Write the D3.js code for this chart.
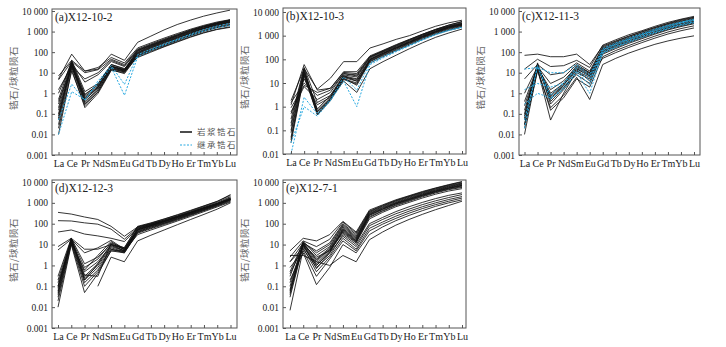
<!DOCTYPE html>
<meta charset="utf-8">
<style>
body { margin: 0; background: #fff; }
text { font-family: "Liberation Serif", "DejaVu Serif", serif; }
.frame { fill: none; stroke: #555; stroke-width: 1; }
.axis .domain { display: none; }
.axis line { stroke: #555; }
.axis text { fill: #222; }
.mag { fill: none; stroke: #111; stroke-width: 0.85; }
.inh { fill: none; stroke: #27a9e1; stroke-width: 1; stroke-dasharray: 2,1.5; }
text.ylab { fill: #666; font-family: "Noto Sans CJK SC", sans-serif; font-size: 9.5px; letter-spacing: 0.5px; }
text.title { fill: #222; font-size: 11.5px; }
text.leg { fill: #555; font-family: "Noto Sans CJK SC", sans-serif; font-size: 8.5px; letter-spacing: 1.5px; }
</style>
<body>
<script src="https://d3js.org/d3.v7.min.js"></script>
<script>

var elements = ["La","Ce","Pr","Nd","Sm","Eu","Gd","Tb","Dy","Ho","Er","Tm","Yb","Lu"];
var yTicks = [0.001, 0.01, 0.1, 1, 10, 100, 1000, 10000];
var yTickLabels = ["0.001", "0.01", "0.1", "1", "10", "100", "1 000", "10 000"];
var panelNames = ["(a)X12-10-2", "(b)X12-10-3", "(c)X12-11-3", "(d)X12-12-3", "(e)X12-7-1"];
var yTitle = "锆石/球粒陨石";
var legendNames = ["岩浆锆石", "继承锆石"];

// (a) X12-10-2
var magA = [
  [5, 80, 12, 15, 80, 40, 300, 600, 1200, 2200, 3600, 5600, 8000, 11000],
  [7, 40, 12, 18, 55, 30, 160, 280, 480, 800, 1300, 2000, 2900, 3800],
  [4.5, 35, 10, 14, 45, 25, 140, 250, 430, 720, 1200, 1850, 2700, 3600],
  [1.0, 30, 3.5, 8, 35, 20, 120, 220, 380, 650, 1100, 1700, 2500, 3400],
  [0.5, 40, 1.2, 3, 25, 15, 110, 200, 350, 600, 1000, 1600, 2400, 3300],
  [0.3, 35, 0.9, 2.5, 22, 14, 100, 190, 330, 560, 950, 1500, 2300, 3100],
  [0.2, 30, 0.6, 2, 20, 13, 95, 180, 310, 530, 900, 1450, 2200, 3000],
  [0.1, 25, 0.5, 1.8, 18, 12, 90, 170, 300, 500, 850, 1400, 2100, 2900],
  [0.06, 28, 0.4, 1.5, 17, 12, 85, 160, 280, 480, 820, 1350, 2000, 2800],
  [0.03, 20, 0.3, 1.2, 15, 11, 80, 150, 260, 450, 780, 1300, 1950, 2700],
  [0.01, 15, 0.2, 1.0, 13, 10, 70, 130, 230, 400, 700, 1150, 1750, 2400],
  [0.02, 12, 0.25, 1.2, 14, 9, 65, 120, 210, 370, 640, 1050, 1600, 2200],
  [0.4, 18, 0.7, 2.2, 20, 13, 75, 130, 220, 380, 650, 1050, 1550, 2000],
  [0.15, 22, 0.35, 1.5, 16, 11, 60, 110, 190, 330, 560, 900, 1300, 1700],
  [0.08, 30, 0.8, 2.8, 25, 16, 55, 100, 180, 310, 530, 850, 1250, 1600],
  [0.05, 25, 0.5, 2, 20, 14, 120, 210, 360, 620, 1050, 1700, 2500, 3500],
  [1.5, 20, 5, 10, 40, 22, 130, 230, 400, 680, 1150, 1800, 2600, 3700]
];
var inhA = [
  [0.01, 1.2, 0.5, 3, 18, 0.8, 60, 120, 220, 380, 650, 1050, 1550, 2000],
  [0.05, 2.8, 0.45, 4, 22, 2.7, 75, 140, 250, 430, 750, 1250, 1850, 2500]
];

// (b) X12-10-3
var magB = [
  [1.8, 40, 5.5, 16, 80, 80, 300, 450, 700, 1000, 1600, 2500, 3500, 4500],
  [1.2, 60, 5, 6, 30, 30, 140, 240, 420, 700, 1150, 1850, 2800, 3800],
  [0.9, 8, 4, 6, 28, 25, 130, 220, 380, 650, 1100, 1750, 2600, 3500],
  [0.6, 7, 2, 4, 25, 20, 120, 210, 360, 620, 1050, 1700, 2500, 3300],
  [0.3, 45, 1.5, 3, 22, 18, 110, 200, 340, 580, 1000, 1600, 2400, 3200],
  [0.15, 35, 0.7, 2.5, 20, 15, 100, 185, 320, 550, 950, 1500, 2300, 3000],
  [0.1, 30, 0.6, 2.2, 18, 14, 95, 175, 300, 520, 900, 1450, 2200, 2900],
  [0.05, 25, 0.5, 2, 17, 12, 90, 165, 290, 500, 860, 1400, 2100, 2800],
  [0.03, 20, 0.45, 1.8, 15, 10, 85, 155, 270, 470, 820, 1350, 2000, 2700],
  [0.08, 28, 0.8, 3, 16, 8, 80, 145, 250, 440, 770, 1250, 1850, 2500],
  [0.5, 15, 1.2, 2.5, 20, 12, 70, 130, 230, 400, 700, 1150, 1700, 2300],
  [0.2, 40, 0.6, 2, 12, 4, 40, 80, 150, 280, 500, 850, 1300, 1900],
  [0.04, 22, 0.5, 2, 14, 9, 100, 180, 310, 530, 920, 1500, 2300, 3100],
  [1.5, 10, 3, 5, 25, 22, 125, 230, 400, 680, 1150, 1850, 2800, 4000]
];
var inhB = [
  [0.01, 2.5, 0.5, 2, 18, 5, 70, 130, 230, 400, 700, 1150, 1700, 2300],
  [0.03, 1.0, 0.4, 1.8, 12, 1, 60, 115, 210, 370, 650, 1100, 1650, 2200]
];

// (c) X12-11-3
var magC = [
  [70, 80, 60, 60, 80, 25, 200, 350, 600, 1000, 1600, 2500, 3800, 5000],
  [15, 45, 20, 22, 40, 18, 220, 400, 700, 1100, 1800, 2800, 4000, 5500],
  [5, 25, 8, 10, 30, 12, 180, 330, 580, 950, 1550, 2400, 3500, 4800],
  [1, 20, 3, 6, 25, 10, 160, 300, 520, 850, 1400, 2200, 3200, 4400],
  [0.25, 18, 1.5, 4, 20, 9, 150, 280, 480, 800, 1300, 2000, 3000, 4100],
  [0.08, 22, 0.8, 3, 18, 8, 140, 260, 450, 750, 1250, 1900, 2800, 3800],
  [0.03, 20, 0.5, 2.5, 15, 7, 130, 240, 420, 700, 1150, 1800, 2600, 3500],
  [0.01, 15, 0.05, 1, 12, 6, 120, 220, 390, 650, 1050, 1650, 2400, 3200],
  [0.05, 25, 0.3, 1.5, 10, 5, 110, 200, 350, 580, 950, 1500, 2200, 2900],
  [0.15, 18, 0.6, 2, 8, 3, 90, 170, 300, 500, 820, 1300, 1900, 2600],
  [0.02, 12, 0.2, 0.8, 6, 0.5, 25, 50, 90, 150, 240, 350, 480, 620],
  [0.4, 20, 1, 3, 22, 10, 100, 190, 330, 560, 920, 1450, 2100, 2900],
  [0.06, 30, 0.4, 1.8, 14, 4, 80, 150, 270, 450, 750, 1200, 1750, 2400],
  [0.03, 15, 0.15, 0.6, 5, 2, 60, 120, 210, 360, 600, 950, 1400, 1900],
  [0.1, 24, 0.7, 2.5, 16, 7, 50, 95, 170, 290, 480, 760, 1100, 1500]
];
var inhC = [
  [15, 18, 10, 10, 25, 8, 150, 280, 480, 800, 1300, 2000, 2900, 4000],
  [1.5, 3, 2, 3, 15, 4, 120, 230, 400, 680, 1100, 1750, 2600, 3500],
  [0.3, 1, 0.6, 1.5, 10, 1, 100, 190, 340, 580, 950, 1500, 2200, 3000],
  [0.05, 20, 0.8, 3, 20, 6, 130, 250, 430, 720, 1200, 1900, 2800, 3800],
  [0.02, 22, 0.5, 2, 12, 2.5, 90, 170, 300, 510, 850, 1350, 2000, 2700]
];

// (d) X12-12-3
var magD = [
  [350, 290, 210, 160, 75, 25, 70, 100, 150, 230, 370, 600, 950, 1500],
  [140, 135, 110, 95, 55, 18, 65, 95, 140, 220, 350, 570, 900, 1400],
  [40, 50, 32, 26, 20, 14, 60, 90, 135, 210, 340, 560, 900, 1450],
  [8, 20, 6, 6, 10, 5, 50, 80, 125, 200, 330, 550, 900, 1600],
  [5.5, 18, 4, 7, 16, 6, 55, 85, 130, 210, 340, 560, 920, 1700],
  [0.3, 20, 1.2, 2.5, 10, 6, 60, 95, 150, 240, 390, 650, 1050, 2000],
  [0.2, 18, 0.8, 2, 12, 7, 70, 105, 165, 260, 420, 700, 1150, 2500],
  [0.1, 15, 0.5, 1.5, 9, 5, 55, 85, 135, 215, 350, 580, 950, 1800],
  [0.08, 17, 0.3, 1.2, 8, 5, 50, 80, 125, 200, 330, 540, 880, 1600],
  [0.05, 16, 0.25, 1, 7, 4.5, 45, 75, 115, 185, 300, 500, 820, 1500],
  [0.04, 14, 0.2, 0.8, 6, 4.5, 40, 68, 105, 170, 280, 470, 780, 1400],
  [0.03, 12, 0.15, 0.6, 6, 4, 38, 62, 100, 160, 265, 440, 730, 1300],
  [0.01, 10, 0.05, 0.4, 5, 4, 35, 58, 92, 150, 250, 420, 700, 1200],
  [0.06, 20, 0.35, 0.3, 11, 6, 50, 80, 125, 200, 320, 530, 860, 1500],
  [0.15, 13, 0.6, 3, 14, 5.5, 42, 70, 110, 175, 290, 480, 800, 1400],
  [0.02, 11, 0.1, 0.5, 5, 5, 30, 50, 82, 135, 225, 380, 640, 1100],
  [null, null, null, 0.1, 2.5, 1.5, 15, 28, 50, 90, 160, 280, 500, 1000],
  [0.1, 19, 0.2, 1.2, 10, 7, 75, 110, 170, 270, 440, 720, 1200, 2300]
];

// (e) X12-7-1
var magE = [
  [5, 20, 15, 30, 130, 40, 450, 800, 1400, 2200, 3500, 5200, 7500, 10500],
  [2.5, 15, 8, 18, 120, 35, 400, 750, 1300, 2100, 3300, 5000, 7200, 10000],
  [1.5, 12, 5, 12, 100, 30, 380, 700, 1250, 2000, 3100, 4700, 6800, 9000],
  [0.5, 13, 4, 10, 90, 25, 350, 650, 1150, 1850, 2900, 4400, 6300, 8500],
  [0.3, 14, 3, 8, 80, 22, 320, 600, 1050, 1700, 2700, 4100, 6000, 8000],
  [0.1, 12, 2, 7, 70, 20, 300, 560, 1000, 1600, 2550, 3900, 5600, 7500],
  [0.05, 11, 1.5, 6, 60, 18, 280, 520, 950, 1500, 2400, 3700, 5300, 7000],
  [0.04, 10, 1.2, 5, 55, 16, 250, 480, 880, 1400, 2250, 3450, 5000, 6500],
  [0.03, 9, 1, 4.5, 45, 14, 220, 430, 800, 1300, 2100, 3200, 4600, 6000],
  [0.07, 12, 1.8, 6, 40, 13, 200, 400, 740, 1200, 1950, 3000, 4300, 5500],
  [0.15, 10, 2.5, 5, 35, 12, 170, 350, 650, 1050, 1700, 2600, 3700, 4800],
  [0.007, 6, 0.8, 3, 30, 10, 100, 200, 380, 650, 1050, 1600, 2300, 3000],
  [0.4, 8, 1, 4, 25, 8, 80, 160, 300, 500, 820, 1250, 1800, 2500],
  [1.5, 7, 0.5, 2.5, 20, 6, 60, 120, 230, 400, 650, 1000, 1450, 2000],
  [0.8, 5, 0.3, 2, 15, 5, 45, 95, 180, 320, 530, 820, 1200, 1700],
  [0.2, 4, 0.12, 0.8, 10, 4, 30, 70, 140, 250, 420, 680, 1000, 1400],
  [3, 3, 1.5, 1, 3, 1.5, 17, 40, 85, 160, 280, 470, 750, 1200],
  [0.06, 10, 0.7, 4, 50, 15, 260, 500, 900, 1450, 2300, 3500, 5000, 6800]
];

var panels = [
  {name: panelNames[0], mag: magA, inh: inhA, left: 52, right: 237, top: 9, bottom: 155, x0: 58.5, x1: 230, yMin: 0.001, y0: 155, y1: 11, legend: true},
  {name: panelNames[1], mag: magB, inh: inhB, left: 283, right: 466, top: 8, bottom: 154, x0: 291, x1: 462, yMin: 0.01, y0: 154, y1: 12},
  {name: panelNames[2], mag: magC, inh: inhC, left: 519, right: 700, top: 8, bottom: 155, x0: 524.5, x1: 694, yMin: 0.001, y0: 155, y1: 11},
  {name: panelNames[3], mag: magD, inh: [], left: 52, right: 237, top: 180, bottom: 328, x0: 58, x1: 230.5, yMin: 0.001, y0: 328, y1: 182},
  {name: panelNames[4], mag: magE, inh: [], left: 283, right: 466, top: 180, bottom: 328, x0: 290, x1: 462, yMin: 0.001, y0: 328, y1: 182}
];

var svg = d3.select("body").append("svg")
    .attr("width", 726)
    .attr("height", 347);

panels.forEach(function(p) {
  var g = svg.append("g");

  var x = d3.scalePoint().domain(elements).range([p.x0, p.x1]);
  var y = d3.scaleLog().domain([p.yMin, 10000]).range([p.y0, p.y1]);

  var line = d3.line()
      .defined(function(d) { return d != null; })
      .x(function(d, i) { return x(elements[i]); })
      .y(function(d) { return y(d); });

  g.selectAll("path.mag")
    .data(p.mag)
    .enter().append("path")
      .attr("class", "mag")
      .attr("d", line);

  g.selectAll("path.inh")
    .data(p.inh)
    .enter().append("path")
      .attr("class", "inh")
      .attr("d", line);

  g.append("rect")
      .attr("class", "frame")
      .attr("x", p.left)
      .attr("y", p.top)
      .attr("width", p.right - p.left)
      .attr("height", p.bottom - p.top);

  var ticks = yTicks.filter(function(t) { return t >= p.yMin; });
  g.append("g")
      .attr("class", "axis")
      .attr("transform", "translate(" + p.left + ",0)")
      .call(d3.axisLeft(y)
        .tickValues(ticks)
        .tickSize(-3)
        .tickPadding(4)
        .tickFormat(function(d) { return yTickLabels[yTicks.indexOf(d)]; }))
      .attr("font-size", "9.5px");

  g.append("g")
      .attr("class", "axis")
      .attr("transform", "translate(0," + p.bottom + ")")
      .call(d3.axisBottom(x)
        .tickSize(-3)
        .tickPadding(5))
      .attr("font-size", "10px");

  g.append("text")
      .attr("class", "title")
      .attr("x", p.left + 3)
      .attr("y", p.top + 12)
      .text(p.name);

  g.append("text")
      .attr("class", "ylab")
      .attr("transform", "translate(" + (p.left - 38) + "," + ((p.top + p.bottom) / 2 - 4) + ") rotate(-90)")
      .attr("text-anchor", "middle")
      .attr("dy", "0.35em")
      .text(yTitle);

  if (p.legend) {
    var lg = g.append("g").attr("transform", "translate(180,132)");
    lg.append("line").attr("x1", 0).attr("x2", 12).attr("y1", 0).attr("y2", 0)
      .attr("stroke", "#111").attr("stroke-width", 1.5);
    lg.append("text").attr("class", "leg").attr("x", 17).attr("dy", "0.35em").text(legendNames[0]);
    lg.append("line").attr("x1", 0).attr("x2", 12).attr("y1", 13).attr("y2", 13)
      .attr("class", "inh");
    lg.append("text").attr("class", "leg").attr("x", 17).attr("y", 13).attr("dy", "0.35em").text(legendNames[1]);
  }
});

</script>
